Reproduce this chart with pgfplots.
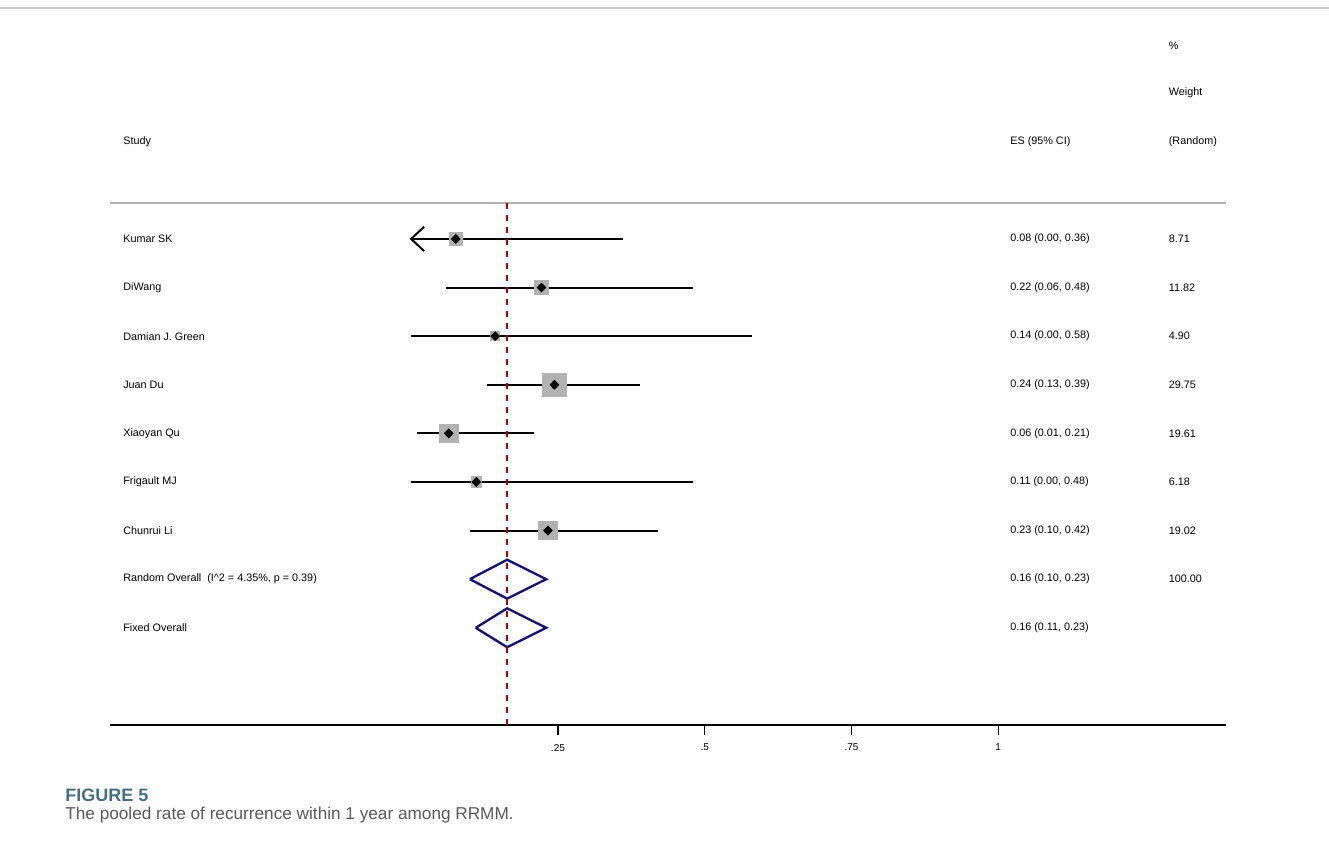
\documentclass[border=0pt]{standalone}
\usepackage{pgfplots}
\pgfplotsset{compat=1.18}
\usepackage{fontspec}
\setmainfont{Liberation Sans}
\definecolor{navy}{RGB}{20,20,110}
\definecolor{capc}{RGB}{70,110,130}
\tikzset{lab/.style={font=\fontsize{5.4}{6}\selectfont,anchor=west,inner sep=0pt}}
\begin{document}
\begin{tikzpicture}[x=0.5pt,y=-0.5pt]
\path[use as bounding box] (0,0) rectangle (1329,848);
\draw[gray!40,line width=0.6pt] (0,8) -- (1329,8);
\begin{axis}[at={(55pt,-362.5pt)},anchor=south west,scale only axis,
 width=558pt,height=358.5pt,xmin=-0.513,xmax=1.388,ymin=-3.75,ymax=11,y dir=reverse,
 axis x line=bottom,axis y line=none,axis line style={-,line width=0.8pt},
 xtick={0.25,0.5,0.75,1},xticklabels={.25,.5,.75,1},
 tick style={line width=0.6pt,black},major tick length=5pt,tick align=outside,
 xticklabel style={font=\fontsize{5}{6}\selectfont,yshift=-1pt},
 clip=false]
\draw[gray!60,line width=0.8pt] (axis cs:-0.513,0.26) -- (axis cs:1.388,0.26);
\node[lab] at (axis cs:-0.491,-1) {Study};
\node[lab] at (axis cs:1.02,-1) {ES (95\% CI)};
\node[lab] at (axis cs:1.29,-1) {(Random)};
\node[lab] at (axis cs:1.29,-2) {Weight};
\node[lab] at (axis cs:1.29,-2.98) {\%};
% CI lines
\addplot[black,line width=1pt] coordinates {(0,1)(0.36,1)};
\draw[black,line width=1pt] (axis cs:0.022,0.75) -- (axis cs:0,1) -- (axis cs:0.022,1.25);
\addplot[black,line width=1pt] coordinates {(0.06,2)(0.48,2)};
\addplot[black,line width=1pt] coordinates {(0.00,3)(0.58,3)};
\addplot[black,line width=1pt] coordinates {(0.13,4)(0.39,4)};
\addplot[black,line width=1pt] coordinates {(0.01,5)(0.21,5)};
\addplot[black,line width=1pt] coordinates {(0.00,6)(0.48,6)};
\addplot[black,line width=1pt] coordinates {(0.10,7)(0.42,7)};
% weight squares
\addplot[only marks,mark=square*,mark options={fill=gray!60,draw=gray!60},mark size=3.1pt] coordinates {(0.076,1)};
\addplot[only marks,mark=square*,mark options={fill=gray!60,draw=gray!60},mark size=3.6pt] coordinates {(0.222,2)};
\addplot[only marks,mark=square*,mark options={fill=gray!60,draw=gray!60},mark size=2.35pt] coordinates {(0.143,3)};
\addplot[only marks,mark=square*,mark options={fill=gray!60,draw=gray!60},mark size=5.8pt] coordinates {(0.244,4)};
\addplot[only marks,mark=square*,mark options={fill=gray!60,draw=gray!60},mark size=4.7pt] coordinates {(0.064,5)};
\addplot[only marks,mark=square*,mark options={fill=gray!60,draw=gray!60},mark size=2.65pt] coordinates {(0.111,6)};
\addplot[only marks,mark=square*,mark options={fill=gray!60,draw=gray!60},mark size=4.6pt] coordinates {(0.233,7)};
\addplot[only marks,mark=diamond*,mark options={fill=black,draw=black,xscale=1.3},mark size=2.2pt] coordinates {(0.076,1)(0.222,2)(0.143,3)(0.244,4)(0.064,5)(0.111,6)(0.233,7)};
% diamonds
\addplot[navy,line width=1.2pt] coordinates {(0.10,8)(0.1635,7.6)(0.23,8)(0.1635,8.4)(0.10,8)};
\addplot[navy,line width=1.2pt] coordinates {(0.11,9)(0.1635,8.6)(0.23,9)(0.1635,9.4)(0.11,9)};
\addplot[red!70!black,dashed,line width=0.7pt] coordinates {(0.1635,0.26)(0.1635,11)};
% labels
\node[lab] at (axis cs:-0.491,1) {Kumar SK};
\node[lab] at (axis cs:-0.491,2) {DiWang};
\node[lab] at (axis cs:-0.491,3) {Damian J. Green};
\node[lab] at (axis cs:-0.491,4) {Juan Du};
\node[lab] at (axis cs:-0.491,5) {Xiaoyan Qu};
\node[lab] at (axis cs:-0.491,6) {Frigault MJ};
\node[lab] at (axis cs:-0.491,7) {Chunrui Li};
\node[lab] at (axis cs:-0.491,8) {Random Overall\ \ (I\^{}2 = 4.35\%, p = 0.39)};
\node[lab] at (axis cs:-0.491,9) {Fixed Overall};
\node[lab] at (axis cs:1.02,1) {0.08 (0.00, 0.36)};
\node[lab] at (axis cs:1.02,2) {0.22 (0.06, 0.48)};
\node[lab] at (axis cs:1.02,3) {0.14 (0.00, 0.58)};
\node[lab] at (axis cs:1.02,4) {0.24 (0.13, 0.39)};
\node[lab] at (axis cs:1.02,5) {0.06 (0.01, 0.21)};
\node[lab] at (axis cs:1.02,6) {0.11 (0.00, 0.48)};
\node[lab] at (axis cs:1.02,7) {0.23 (0.10, 0.42)};
\node[lab] at (axis cs:1.02,8) {0.16 (0.10, 0.23)};
\node[lab] at (axis cs:1.02,9) {0.16 (0.11, 0.23)};
\node[lab] at (axis cs:1.29,1) {8.71};
\node[lab] at (axis cs:1.29,2) {11.82};
\node[lab] at (axis cs:1.29,3) {4.90};
\node[lab] at (axis cs:1.29,4) {29.75};
\node[lab] at (axis cs:1.29,5) {19.61};
\node[lab] at (axis cs:1.29,6) {6.18};
\node[lab] at (axis cs:1.29,7) {19.02};
\node[lab] at (axis cs:1.29,8) {100.00};
\end{axis}
\node[anchor=west,inner sep=0,text=capc,font=\fontsize{9}{10}\selectfont\bfseries] at (65,795) {FIGURE 5};
\node[anchor=west,inner sep=0,text=black!65,font=\fontsize{8.6}{10}\selectfont] at (65,815) {The pooled rate of recurrence within 1 year among RRMM.};
\end{tikzpicture}
\end{document}
